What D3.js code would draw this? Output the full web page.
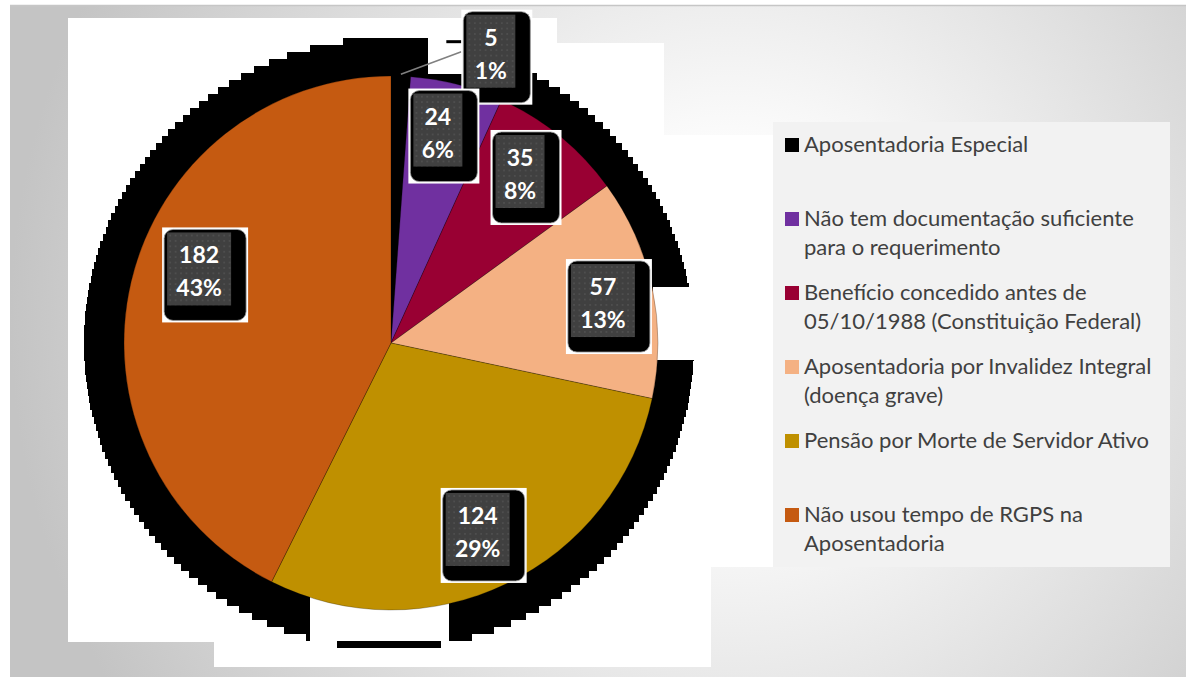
<!doctype html>
<html lang="pt">

<head>
    <meta charset="utf-8">
    <title>d3 - pie chart</title>
    <script src="https://cdn.jsdelivr.net/npm/d3@7"></script>
    <style>
        body {
            margin: 0;
            background: #ffffff;
        }

        svg {
            display: block;
        }

        .legend text {
            font-family: Lato, "Open Sans", sans-serif;
            font-size: 22px;
            fill: #404040;
        }

        .lbl text {
            font-family: Lato, "Open Sans", sans-serif;
            font-weight: bold;
            font-size: 23px;
            fill: #ffffff;
            text-anchor: middle;
        }
    </style>
</head>

<body>
    <svg></svg>
    <script>
        var width = 1189;
        var height = 677;

        var categories = [
            "Aposentadoria Especial",
            "Não tem documentação suficiente para o requerimento",
            "Benefício concedido antes de 05/10/1988 (Constituição Federal)",
            "Aposentadoria por Invalidez Integral (doença grave)",
            "Pensão por Morte de Servidor Ativo",
            "Não usou tempo de RGPS na Aposentadoria"
        ];
        var values = [5, 24, 35, 57, 124, 182];
        var colors = ["#000000", "#7030a0", "#990033", "#f4b183", "#bf9000", "#c55a11"];

        var total = d3.sum(values);
        var dataset = categories.map(function (c, i) {
            return { name: c, value: values[i], color: colors[i], pct: Math.round(values[i] / total * 100) + "%" };
        });

        var svg = d3.select('svg').attr("width", width).attr("height", height);
        var defs = svg.append("defs");

        // slide background
        var grad = defs.append("radialGradient")
            .attr("id", "bg")
            .attr("gradientUnits", "userSpaceOnUse")
            .attr("cx", 730).attr("cy", 320).attr("r", 720);
        grad.append("stop").attr("offset", "0.2").attr("stop-color", "#ffffff");
        grad.append("stop").attr("offset", "1").attr("stop-color", "#c4c4c4");

        var pat = defs.append("pattern")
            .attr("id", "dots")
            .attr("patternUnits", "userSpaceOnUse")
            .attr("width", 5.4).attr("height", 5.4);
        pat.append("rect").attr("width", 5.4).attr("height", 5.4).attr("fill", "#404040");
        pat.append("rect").attr("x", 2).attr("y", 2).attr("width", 1.4).attr("height", 1.4).attr("fill", "#575757");

        svg.append("rect")
            .attr("x", 10).attr("y", 5)
            .attr("width", 1176).attr("height", 672)
            .attr("fill", "url(#bg)");
        svg.append("line")
            .attr("x1", 10).attr("x2", 1186).attr("y1", 5.5).attr("y2", 5.5)
            .attr("stroke", "#c6c6c6").attr("stroke-width", 1.5);

        // white plot area (irregular, as in the original export)
        var plotArea = [[68, 18], [557, 18], [557, 43], [664, 43], [664, 135], [773, 135], [773, 567],
            [711, 567], [711, 667], [214, 667], [214, 642], [68, 642]];
        var areaPath = "M" + plotArea.join("L") + "Z";
        svg.append("path").attr("d", areaPath).attr("fill", "#ffffff");
        defs.append("clipPath").attr("id", "areaClip").append("path").attr("d", areaPath);

        var cx = 391, cy = 343, radius = 267;

        // black glow behind the pie, drawn as stair-stepped strips like the bitmap export
        var hx = 389, hy = 343, hr = 305, step = 7;
        var rows = d3.range(hy - hr, hy + hr, step);
        var halo = svg.append("g").attr("clip-path", "url(#areaClip)");
        halo.selectAll("rect.strip")
            .data(rows)
            .enter()
            .append("rect")
            .attr("class", "strip")
            .attr("shape-rendering", "crispEdges")
            .attr("y", function (y) { return y; })
            .attr("height", step + 0.5)
            .attr("x", function (y) {
                var dy = Math.abs(y + step / 2 - hy);
                return hx - Math.sqrt(Math.max(0, hr * hr - dy * dy));
            })
            .attr("width", function (y) {
                var dy = Math.abs(y + step / 2 - hy);
                return 2 * Math.sqrt(Math.max(0, hr * hr - dy * dy));
            })
            .attr("fill", "#000000");
        halo.append("rect").attr("x", 310).attr("y", 560).attr("width", 139).attr("height", 81).attr("fill", "#ffffff");
        halo.append("rect").attr("x", 653).attr("y", 287).attr("width", 50).attr("height", 73).attr("fill", "#ffffff");
        halo.append("rect").attr("x", 428).attr("y", 28).attr("width", 40).attr("height", 46).attr("fill", "#ffffff");

        var pie = d3.pie().sort(null).value(function (d) { return d.value; });
        var arcs = pie(dataset);

        var arc = d3.arc().innerRadius(0).outerRadius(radius);
        var labelArc = d3.arc().innerRadius(radius * 0.8).outerRadius(radius * 0.8);

        var g = svg.append("g").attr("transform", "translate(" + cx + "," + cy + ")");

        g.selectAll("path")
            .data(arcs)
            .enter()
            .append("path")
            .attr("d", arc)
            .attr("fill", function (d) { return d.data.color; })
            .attr("stroke", "rgba(0,0,0,0.35)")
            .attr("stroke-width", 0.7);

        // label positions: centroid, a few nudged like Excel's best fit
        var nudge = { 3: [9, 8], 5: [22, -19] };
        var boxes = arcs.map(function (d, i) {
            var w = Math.max(String(d.data.value).length, d.data.pct.length) >= 3 ? 86 : 71;
            var h = 95;
            var c = labelArc.centroid(d);
            if (i === 0) {
                // tiny slice: label pulled outside with leader line
                var p = d3.arc().innerRadius(radius).outerRadius(radius).centroid(d);
                c = [p[0] + 96, p[1] - 19];
            }
            var n = nudge[i] || [0, 0];
            return { d: d, w: w, h: h, x: cx + c[0] + n[0] - w / 2, y: cy + c[1] + n[1] - h / 2 };
        });

        // leader line for the small slice
        var edge = d3.arc().innerRadius(radius + 2).outerRadius(radius + 2).centroid(arcs[0]);
        svg.append("line")
            .attr("x1", cx + edge[0]).attr("y1", cy + edge[1])
            .attr("x2", boxes[0].x).attr("y2", boxes[0].y + 42)
            .attr("stroke", "#808080").attr("stroke-width", 1.5);
        svg.append("line")
            .attr("x1", boxes[0].x - 15).attr("x2", boxes[0].x)
            .attr("y1", boxes[0].y + 32).attr("y2", boxes[0].y + 32)
            .attr("stroke", "#000000").attr("stroke-width", 3);

        var lbl = svg.selectAll("g.lbl")
            .data(boxes)
            .enter()
            .append("g")
            .attr("class", "lbl")
            .attr("transform", function (b) { return "translate(" + b.x + "," + b.y + ")"; });

        lbl.append("rect")
            .attr("width", function (b) { return b.w; })
            .attr("height", function (b) { return b.h; })
            .attr("fill", "#ffffff");
        lbl.append("rect")
            .attr("x", 2).attr("y", 2)
            .attr("width", function (b) { return b.w - 4; })
            .attr("height", function (b) { return b.h - 4; })
            .attr("rx", 9)
            .attr("fill", "#000000")
            .attr("stroke", "#9a9a9a").attr("stroke-width", 0.8);
        lbl.append("rect")
            .attr("x", 5).attr("y", 5)
            .attr("width", function (b) { return b.w - 22; })
            .attr("height", function (b) { return b.h - 22; })
            .attr("fill", "url(#dots)");
        lbl.append("text")
            .attr("x", function (b) { return 5 + (b.w - 22) / 2; })
            .attr("y", 36)
            .text(function (b) { return b.d.data.value; });
        lbl.append("text")
            .attr("x", function (b) { return 5 + (b.w - 22) / 2; })
            .attr("y", 69)
            .text(function (b) { return b.d.data.pct; });

        // legend
        var legend = svg.append("g").attr("class", "legend");
        legend.append("rect")
            .attr("x", 773).attr("y", 122)
            .attr("width", 397).attr("height", 445)
            .attr("fill", "#f2f2f2");

        var item = legend.selectAll("g.item")
            .data(dataset)
            .enter()
            .append("g")
            .attr("class", "item")
            .attr("transform", function (d, i) { return "translate(785," + (152 + i * 74) + ")"; });

        item.append("rect")
            .attr("x", 0).attr("y", -14)
            .attr("width", 14).attr("height", 14)
            .attr("fill", function (d) { return d.color; });

        item.append("text")
            .attr("x", 19)
            .each(function (d) {
                // simple word wrap at the legend width
                var t = d3.select(this);
                var words = d.name.split(" ");
                var line = [];
                var lineNo = 0;
                var ts = t.append("tspan").attr("x", 19).attr("y", 0);
                words.forEach(function (w) {
                    line.push(w);
                    ts.text(line.join(" "));
                    if (ts.node().getComputedTextLength() > 372 && line.length > 1) {
                        line.pop();
                        ts.text(line.join(" "));
                        line = [w];
                        lineNo++;
                        ts = t.append("tspan").attr("x", 19).attr("y", lineNo * 29).text(w);
                    }
                });
            });
    </script>

</body>

</html>
